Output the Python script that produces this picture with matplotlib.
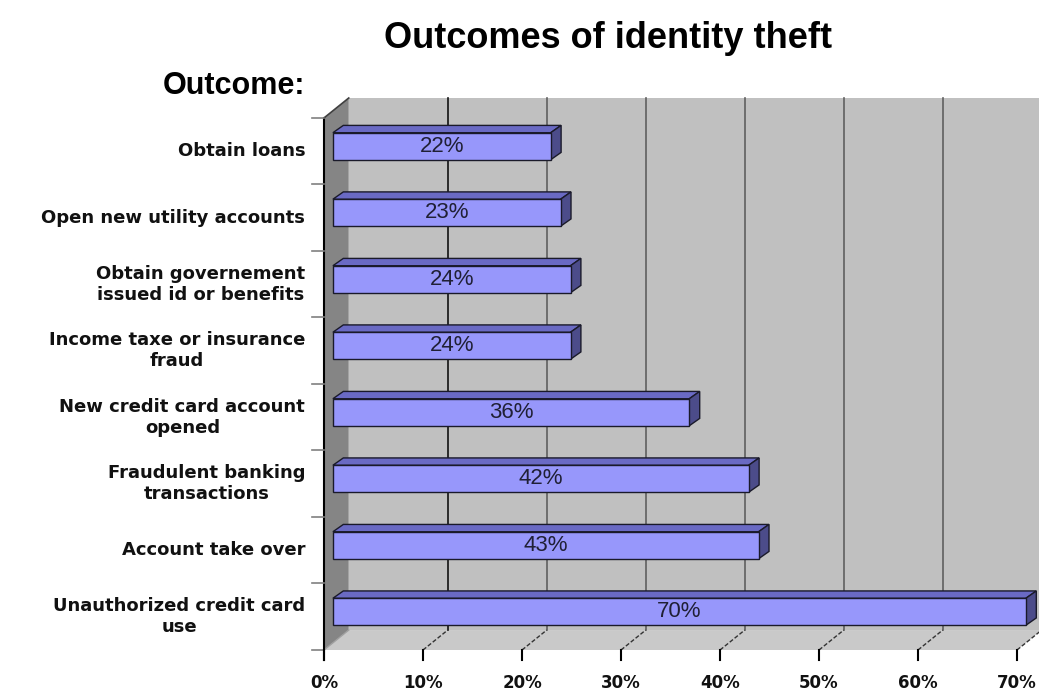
import numpy as np
import matplotlib
matplotlib.use('Agg')
import matplotlib.pyplot as plt
from matplotlib.patches import Polygon

# data, bottom to top as drawn
outcomes = ['Unauthorized credit card\nuse',
            'Account take over',
            'Fraudulent banking\ntransactions',
            'New credit card account\nopened',
            'Income taxe or insurance\nfraud',
            'Obtain governement\nissued id or benefits',
            'Open new utility accounts',
            'Obtain loans']
pct = [70, 43, 42, 36, 24, 24, 23, 22]
xticks = [0, 10, 20, 30, 40, 50, 60, 70]
xticklabels = ['0%', '10%', '20%', '30%', '40%', '50%', '60%', '70%']

W, H = 1039, 691
fig = plt.figure(figsize=(W / 100, H / 100), dpi=100)
fig.patch.set_facecolor('white')

# plot area in pixels: x 324..1039, y 98..650
ax = fig.add_axes([324 / W, (H - 650) / H, (W - 324) / W, (650 - 98) / H])
xmax = (W - 324) / 9.9
ymin, ymax = -0.5, 7.8
ax.set_xlim(0, xmax)
ax.set_ylim(ymin, ymax)
ax.axis('off')

# depth of the 3d box (data units)
dxw, dyw = 2.5, 0.30
ytop = len(outcomes) - 0.5

# back wall
ax.add_patch(Polygon([(dxw, ymin + dyw), (xmax + 1, ymin + dyw), (xmax + 1, ymax), (dxw, ymax)],
                     closed=True, fc='#c0c0c0', ec='none', zorder=0, clip_on=False))
# floor
ax.add_patch(Polygon([(0, ymin), (70, ymin), (70 + dxw, ymin + dyw), (dxw, ymin + dyw)],
                     closed=True, fc='#c9c9c9', ec='none', zorder=1, clip_on=False))
# left side wall
ax.add_patch(Polygon([(0, ymin), (dxw, ymin + dyw), (dxw, ymax), (0, ytop)],
                     closed=True, fc='#858585', ec='none', zorder=1, clip_on=False))
ax.plot([0, dxw], [ytop, ymax], color='#404040', lw=1.2, zorder=2, clip_on=False)
ax.plot([0, dxw], [ymin, ymin + dyw], color='#a0a0a0', lw=1.0, zorder=2, clip_on=False)

# back gridlines and floor dashes
for k in xticks[1:]:
    col = '#111111' if k == 10 else '#5f5f5f'
    if k < 70:
        ax.plot([k + dxw, k + dxw], [ymin + dyw, ymax], color=col, lw=1.2, zorder=1.5, clip_on=False)
    ax.plot([k, k + dxw], [ymin, ymin + dyw], color='#333333', lw=1.0, ls=(0, (3, 1.5)),
            zorder=2, clip_on=False)

# front axes
ax.plot([0, 0], [ymin - 0.15, ytop], color='black', lw=1.5, zorder=4, clip_on=False)
for b in np.arange(ymin, ytop + 0.01, 1):
    ax.plot([-1.2, 0], [b, b], color='#808080', lw=1.2, zorder=4, clip_on=False)
for k in xticks:
    ax.plot([k, k], [ymin, ymin - 0.15], color='black', lw=1.5, zorder=4, clip_on=False)

# 3d bars
bx0 = 0.9
half = 0.203
ddx, ddy = 1.05, 0.11
for i, v in enumerate(pct):
    c = i + 0.075
    x1 = bx0 + v
    front = [(bx0, c - half), (x1, c - half), (x1, c + half), (bx0, c + half)]
    top = [(bx0, c + half), (x1, c + half), (x1 + ddx, c + half + ddy), (bx0 + ddx, c + half + ddy)]
    side = [(x1, c - half), (x1 + ddx, c - half + ddy), (x1 + ddx, c + half + ddy), (x1, c + half)]
    ax.add_patch(Polygon(top, closed=True, fc='#6a6ac4', ec='#1a1a2a', lw=1.0, zorder=5, clip_on=False))
    ax.add_patch(Polygon(side, closed=True, fc='#4c4c8a', ec='#1a1a2a', lw=1.0, zorder=5, clip_on=False))
    ax.add_patch(Polygon(front, closed=True, fc='#9797fb', ec='#1a1a2a', lw=1.0, zorder=6, clip_on=False))
    ax.text(bx0 + v / 2, c, f'{v}%', ha='center', va='center', fontsize=16,
            family='Liberation Sans', color='#202035', zorder=7)

# category labels
for i, lab in enumerate(outcomes):
    ax.text(-1.9, i, lab, ha='right', va='center', multialignment='center',
            fontsize=13, fontweight='bold', family='DejaVu Sans', color='#111111')

# x tick labels
for k, lab in zip(xticks, xticklabels):
    ax.text(k, ymin - 0.5, lab, ha='center', va='center', fontsize=12,
            fontweight='bold', family='DejaVu Sans', color='#111111')

fig.text(608 / W, 1 - 38 / H, 'Outcomes of identity theft', ha='center', va='center',
         fontsize=26, fontweight='bold', family='Liberation Sans')
fig.text(305 / W, 1 - 86 / H, 'Outcome:', ha='right', va='center',
         fontsize=22, fontweight='bold', family='Liberation Sans')

fig.savefig('out.png', dpi=100, facecolor='white')
